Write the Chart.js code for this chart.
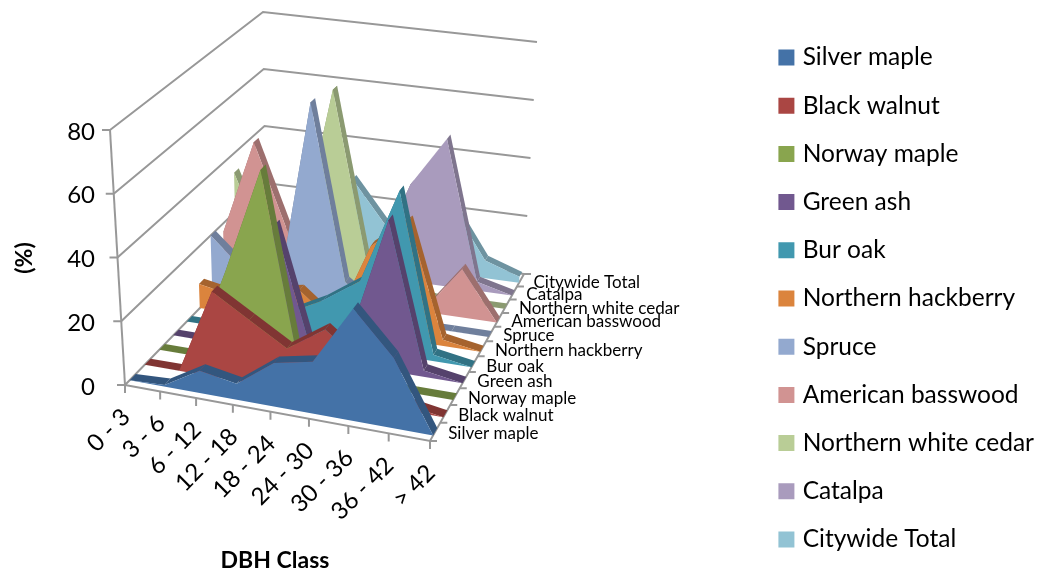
<!DOCTYPE html>
<html>
<head>
<meta charset="utf-8">
<style>html,body{margin:0;background:#fff}</style>
<script src="https://cdn.jsdelivr.net/npm/chart.js@4"></script>
</head>
<body>
<canvas id="myChart" width="1040" height="575"></canvas>
<script>
var categories = ['0 - 3', '3 - 6', '6 - 12', '12 - 18', '18 - 24', '24 - 30', '30 - 36', '36 - 42', '> 42'];
var seriesNames = ['Silver maple', 'Black walnut', 'Norway maple', 'Green ash', 'Bur oak', 'Northern hackberry', 'Spruce', 'American basswood', 'Northern white cedar', 'Catalpa', 'Citywide Total'];
var valueTicks = [0, 20, 40, 60, 80];

var silverMaple = [0, 0.5, 7, 5, 13.5, 16, 34.5, 21.5, 0];
var blackWalnut = [0, 0, 27, 20, 13, 21, 12, 2, 0];
var norwayMaple = [0, 0, 29, 63, 1, 0, 0, 0, 0];
var greenAsh = [0, 0, 5, 41, 2, 8, 48, 2, 0];
var burOak = [0, 0, 5, 8, 14, 22, 53, 2, 0];
var northernHackberry = [8, 6, 9, 11, 2, 29, 39, 2, 0];
var spruce = [20, 10, 2, 69, 11, 3, 0, 0, 0];
var americanBasswood = [17, 49, 20, 5, 2, 1, 1, 16, 0];
var northernWhiteCedar = [33.5, 8, 13, 66, 11, 2, 0, 0, 0];
var catalpa = [0, 0, 0, 0, 5, 33, 50, 3, 0];
var citywideTotal = [3, 8, 14, 28, 14, 16, 23, 6, 2];

var seriesValues = [silverMaple, blackWalnut, norwayMaple, greenAsh, burOak, northernHackberry, spruce, americanBasswood, northernWhiteCedar, catalpa, citywideTotal];

var frontColors = ['#4472A7', '#AA4643', '#89A54E', '#71588F', '#4198AF', '#DB843D', '#93A9CF', '#D19392', '#B9CD96', '#A99BBD', '#92C3D4'];
var topColors = ['#33567E', '#803533', '#677C3B', '#55426C', '#317284', '#A5632E', '#6F7F9C', '#9D6F6E', '#8B9A71', '#7F758E', '#6E93A0'];
var gridColor = '#989898';
var fontName = 'Lato, sans-serif';

// corners of the 3D box on the page, floor and 80% level
var floorCorners = [[125, 385], [430, 441], [524, 274], [266, 240]];
var topCorners = [[110, 130], [439, 179], [537, 42], [263, 12]];

function makeHomography(q) {
    var dx1 = q[1][0] - q[2][0], dx2 = q[3][0] - q[2][0], sx = q[0][0] - q[1][0] + q[2][0] - q[3][0];
    var dy1 = q[1][1] - q[2][1], dy2 = q[3][1] - q[2][1], sy = q[0][1] - q[1][1] + q[2][1] - q[3][1];
    var den = dx1 * dy2 - dx2 * dy1;
    var g = (sx * dy2 - dx2 * sy) / den, h = (dx1 * sy - sx * dy1) / den;
    var a = q[1][0] - q[0][0] + g * q[1][0], b = q[3][0] - q[0][0] + h * q[3][0];
    var d = q[1][1] - q[0][1] + g * q[1][1], e = q[3][1] - q[0][1] + h * q[3][1];
    return function(u, v) {
        var w = g * u + h * v + 1;
        return [(a * u + b * v + q[0][0]) / w, (d * u + e * v + q[0][1]) / w];
    };
}
var floorMap = makeHomography(floorCorners);
var topMap = makeHomography(topCorners);

// category index, series depth, value -> page position
function project(c, s, v) {
    var u = c / (categories.length - 1), w = s / seriesNames.length;
    var p0 = floorMap(u, w), p1 = topMap(u, w), t = v / 80;
    return {x: p0[0] + (p1[0] - p0[0]) * t, y: p0[1] + (p1[1] - p0[1]) * t};
}

function polygon(points, color) {
    return {data: points, polygon: true, backgroundColor: color, borderColor: color, borderWidth: 0, pointRadius: 0};
}
function gridLine(points, width) {
    return {data: points, showLine: true, borderColor: gridColor, borderWidth: width || 2, pointRadius: 0, tension: 0};
}

var frontDepth = 0.3, backDepth = 0.7;
var datasets = [];
seriesValues.forEach(function(values, s) {
    var front = values.map(function(v, c) { return project(c, s + frontDepth, v); });
    front.push(project(values.length - 1, s + frontDepth, 0), project(0, s + frontDepth, 0));
    var face = polygon(front, frontColors[s]);
    face.label = seriesNames[s];
    datasets.push(face);
    for (var c = values.length - 2; c >= 0; c--) {
        datasets.push(polygon([
            project(c, s + frontDepth, values[c]),
            project(c + 1, s + frontDepth, values[c + 1]),
            project(c + 1, s + backDepth, values[c + 1]),
            project(c, s + backDepth, values[c])
        ], topColors[s]));
    }
});

var lastCat = categories.length - 1, depth = seriesNames.length;
valueTicks.forEach(function(v) {
    datasets.push(gridLine([project(0, 0, v), project(0, depth, v), project(lastCat, depth, v)]));
    var p = project(0, 0, v);
    datasets.push(gridLine([p, {x: p.x - 8, y: p.y}]));
});
datasets.push(gridLine([project(0, 0, 0), project(0, 0, 80)]));
datasets.push(gridLine([project(0, 0, 0), project(lastCat, 0, 0), project(lastCat, depth, 0)]));
categories.forEach(function(name, c) {
    var p = project(c, 0, 0);
    datasets.push(gridLine([p, {x: p.x, y: p.y + 8}]));
});
for (var i = 0; i <= depth; i++) {
    var q = project(lastCat, i, 0);
    datasets.push(gridLine([q, {x: q.x + 7, y: q.y}]));
}

// fills the closed shapes, the line element can't do that by itself
var polygonPlugin = {
    id: 'polygons',
    beforeDatasetDraw: function(chart, args) {
        var ds = chart.data.datasets[args.index];
        if (!ds.polygon) return;
        var pts = args.meta.data, ctx = chart.ctx;
        ctx.save();
        ctx.beginPath();
        pts.forEach(function(p, i) { i ? ctx.lineTo(p.x, p.y) : ctx.moveTo(p.x, p.y); });
        ctx.closePath();
        ctx.fillStyle = ds.backgroundColor;
        ctx.fill();
        ctx.restore();
        return false;
    }
};

var labelPlugin = {
    id: 'axisLabels',
    afterLayout: function(chart) {
        chart.legend.top += 11;
        chart.legend.bottom += 11;
        chart.legend.left += 4;
        chart.legend.right += 4;
    },
    afterDraw: function(chart) {
        var ctx = chart.ctx;
        ctx.save();
        ctx.fillStyle = '#000';
        ctx.textBaseline = 'middle';

        ctx.font = '24px ' + fontName;
        ctx.textAlign = 'right';
        valueTicks.forEach(function(v) {
            ctx.fillText(String(v), 95, project(0, 0, v).y + 2);
        });

        categories.forEach(function(name, c) {
            var p = project(c, 0, 0);
            ctx.save();
            ctx.translate(p.x + 1, p.y + 28);
            ctx.rotate(-Math.PI / 4);
            ctx.fillText(name, 0, 0);
            ctx.restore();
        });

        ctx.font = '17px ' + fontName;
        ctx.textAlign = 'left';
        seriesNames.forEach(function(name, s) {
            var p = project(lastCat, s + 0.5, 0);
            ctx.fillText(name, p.x + 13, p.y + 2);
        });

        ctx.font = 'bold 23px ' + fontName;
        ctx.textAlign = 'center';
        ctx.fillText('DBH Class', 275, 561);
        ctx.translate(25, 258);
        ctx.rotate(-Math.PI / 2);
        ctx.fillText('(%)', 0, 0);
        ctx.restore();
    }
};

new Chart(document.getElementById('myChart').getContext('2d'), {
    type: 'scatter',
    data: {datasets: datasets},
    plugins: [polygonPlugin, labelPlugin],
    options: {
        responsive: false,
        animation: false,
        scales: {
            x: {type: 'linear', display: false, bounds: 'data', afterDataLimits: function(scale) { scale.min = 0; scale.max = scale.width; }},
            y: {type: 'linear', display: false, bounds: 'data', reverse: true, afterDataLimits: function(scale) { scale.min = 0; scale.max = scale.height; }}
        },
        plugins: {
            tooltip: {enabled: false},
            legend: {
                position: 'right',
                labels: {
                    boxWidth: 8,
                    boxHeight: 8,
                    padding: 23.7,
                    color: '#000',
                    font: {family: fontName, size: 24.5},
                    generateLabels: function() {
                        return seriesNames.map(function(name, s) {
                            return {text: name, fillStyle: frontColors[s], strokeStyle: frontColors[s], lineWidth: 8, datasetIndex: s, hidden: false};
                        });
                    }
                }
            }
        }
    }
});
</script>
</body>
</html>
